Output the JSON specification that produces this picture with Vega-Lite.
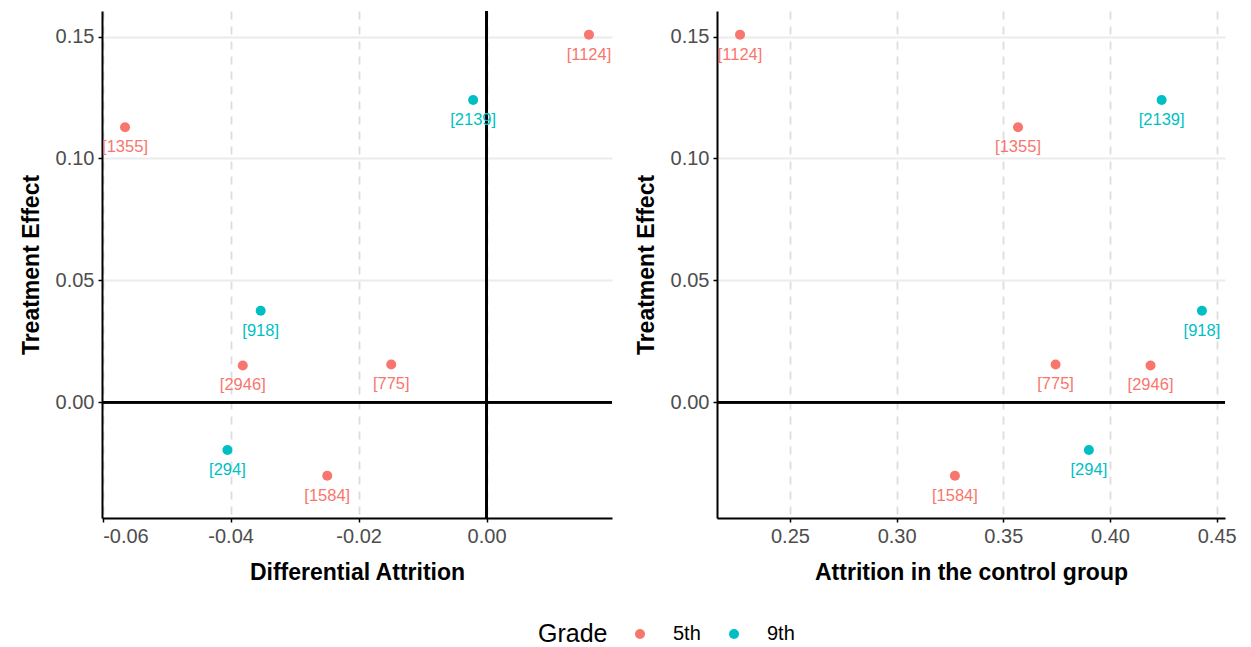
{
  "$schema": "https://vega.github.io/schema/vega-lite/v6.json",
  "padding": {"left": 20, "top": 10, "right": 16, "bottom": 5},
  "background": "white",
  "datasets": {
    "pts": [
      {"id": "[1124]", "grade": "5th", "diff": 0.0160, "ctrl": 0.2266, "te": 0.1508},
      {"id": "[1355]", "grade": "5th", "diff": -0.0565, "ctrl": 0.3569, "te": 0.1128},
      {"id": "[2139]", "grade": "9th", "diff": -0.0021, "ctrl": 0.4242, "te": 0.1240},
      {"id": "[918]", "grade": "9th", "diff": -0.0353, "ctrl": 0.4431, "te": 0.0375},
      {"id": "[2946]", "grade": "5th", "diff": -0.0381, "ctrl": 0.4190, "te": 0.0151},
      {"id": "[775]", "grade": "5th", "diff": -0.0149, "ctrl": 0.3745, "te": 0.0155},
      {"id": "[294]", "grade": "9th", "diff": -0.0405, "ctrl": 0.3901, "te": -0.0196},
      {"id": "[1584]", "grade": "5th", "diff": -0.0249, "ctrl": 0.3273, "te": -0.0302}
    ]
  },
  "config": {
    "font": "Liberation Sans",
    "view": {"stroke": null},
    "axis": {
      "domainColor": "black",
      "domainWidth": 2,
      "tickColor": "black",
      "tickWidth": 1.5,
      "tickSize": 4,
      "labelFontSize": 20,
      "labelColor": "#4D4D4D",
      "labelPadding": 4,
      "labelExpr": "replace(datum.label, '\u2212', '-')",
      "titleFontSize": 23,
      "titleFontWeight": "bold",
      "titleColor": "black"
    },
    "axisX": {"grid": true, "gridDash": [8, 7], "gridColor": "#DDDDDD", "gridWidth": 1.8, "titlePadding": 15},
    "axisY": {"grid": true, "gridColor": "#EBEBEB", "gridWidth": 1.8, "titlePadding": 12},
    "concat": {"spacing": 22}
  },
  "resolve": {"scale": {"color": "shared"}},
  "hconcat": [
    {
      "width": 510,
      "height": 507,
      "data": {"name": "pts"},
      "layer": [
        {"mark": {"type": "rule", "color": "black", "strokeWidth": 2}, "encoding": {"y": {"datum": 0, "type": "quantitative"}}},
        {"mark": {"type": "rule", "color": "black", "strokeWidth": 2}, "encoding": {"x": {"datum": 0, "type": "quantitative"}}},
        {
          "mark": {"type": "circle", "size": 100, "opacity": 1},
          "encoding": {
            "x": {"field": "diff", "type": "quantitative", "title": "Differential Attrition",
                  "scale": {"domain": [-0.0601, 0.0196], "nice": false, "zero": false},
                  "axis": {"values": [-0.06, -0.04, -0.02, 0.0], "format": ".2f"}},
            "y": {"field": "te", "type": "quantitative", "title": "Treatment Effect",
                  "scale": {"domain": [-0.0475, 0.1605], "nice": false, "zero": false},
                  "axis": {"values": [0, 0.05, 0.1, 0.15], "format": ".2f"}},
            "color": {"field": "grade", "type": "nominal", "title": "Grade",
                      "scale": {"domain": ["5th", "9th"], "range": ["#F8766D", "#00BFC4"]},
                      "legend": {
                        "orient": "none", "legendX": 436, "legendY": 613,
                        "direction": "horizontal", "titleOrient": "left",
                        "titleFontSize": 25, "titleFontWeight": "normal", "titleColor": "black",
                        "titlePadding": 22, "labelFontSize": 20, "labelColor": "black",
                        "labelOffset": 23, "columnPadding": 23,
                        "symbolSize": 100, "symbolType": "circle", "symbolStrokeWidth": 0, "symbolOpacity": 1
                      }}
          }
        },
        {
          "mark": {"type": "text", "fontSize": 16.5, "dy": 20, "baseline": "middle"},
          "encoding": {
            "x": {"field": "diff", "type": "quantitative"},
            "y": {"field": "te", "type": "quantitative"},
            "text": {"field": "id"},
            "color": {"field": "grade", "type": "nominal"}
          }
        }
      ]
    },
    {
      "width": 508,
      "height": 507,
      "data": {"name": "pts"},
      "layer": [
        {"mark": {"type": "rule", "color": "black", "strokeWidth": 2}, "encoding": {"y": {"datum": 0, "type": "quantitative"}}},
        {
          "mark": {"type": "circle", "size": 100, "opacity": 1},
          "encoding": {
            "x": {"field": "ctrl", "type": "quantitative", "title": "Attrition in the control group",
                  "scale": {"domain": [0.2158, 0.4539], "nice": false, "zero": false},
                  "axis": {"values": [0.25, 0.3, 0.35, 0.4, 0.45], "format": ".2f"}},
            "y": {"field": "te", "type": "quantitative", "title": "Treatment Effect",
                  "scale": {"domain": [-0.0475, 0.1605], "nice": false, "zero": false},
                  "axis": {"values": [0, 0.05, 0.1, 0.15], "format": ".2f"}},
            "color": {"field": "grade", "type": "nominal"}
          }
        },
        {
          "mark": {"type": "text", "fontSize": 16.5, "dy": 20, "baseline": "middle"},
          "encoding": {
            "x": {"field": "ctrl", "type": "quantitative"},
            "y": {"field": "te", "type": "quantitative"},
            "text": {"field": "id"},
            "color": {"field": "grade", "type": "nominal"}
          }
        }
      ]
    }
  ]
}
